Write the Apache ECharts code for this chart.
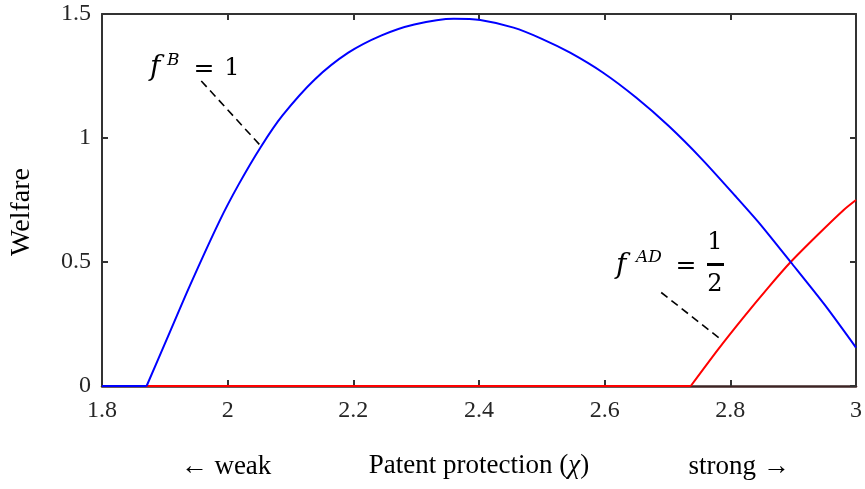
<!DOCTYPE html>
<html>
<head>
<meta charset="utf-8">
<script src="https://cdn.jsdelivr.net/npm/echarts@6/dist/echarts.min.js"></script>
<style>
  html, body { margin: 0; padding: 0; background: #fff; }
  #main { width: 865px; height: 489px; }
</style>
</head>
<body>
<div id="main"></div>
<script>
// welfare curve for f^B = 1 (blue)
const blueX = [1.871, 1.903, 1.939, 1.987, 2.018, 2.053, 2.087, 2.139, 2.192, 2.245, 2.297, 2.360, 2.402,
               2.455, 2.500, 2.545, 2.597, 2.650, 2.702, 2.755, 2.808, 2.847, 2.896, 2.950, 3.000];
const blueY = [0, 0.188, 0.40, 0.665, 0.815, 0.965, 1.09, 1.237, 1.344, 1.414, 1.458, 1.481, 1.476,
               1.445, 1.40, 1.344, 1.264, 1.163, 1.048, 0.914, 0.766, 0.654, 0.50, 0.328, 0.155];

// welfare curve for f^AD = 1/2 (red)
const redX = [2.737, 2.78, 2.82, 2.86, 2.896, 2.94, 2.98, 3.0];
const redY = [0, 0.146, 0.274, 0.396, 0.50, 0.612, 0.709, 0.75];

// both curves sit on zero left of where they start
const blueZeroX = [1.8, 1.871];
const redZeroX = [1.8, 2.737];

// pointer lines from the labels to the curves
const pointerB = [[1.958, 1.23], [2.0526, 0.968]];
const pointerAD = [[2.690, 0.377], [2.786, 0.186]];

const xTicks = { min: 1.8, max: 3, step: 0.2 };
const yTicks = { min: 0, max: 1.5, step: 0.5 };

function pairs(xs, ys) {
    var out = [];
    for (var i = 0; i < xs.length; i++) {
        out.push([xs[i], ys ? ys[i] : 0]);
    }
    return out;
}

var serif = '"Liberation Serif", "Times New Roman", serif';
var math = '"DejaVu Serif", serif';
var axisColor = '#333';

var chart = echarts.init(document.getElementById('main'));

function xAxisCfg(pos) {
    return {
        type: 'value',
        position: pos,
        min: xTicks.min,
        max: xTicks.max,
        interval: xTicks.step,
        z: 3,
        axisLine: { show: true, onZero: false, lineStyle: { color: pos == 'bottom' ? '#3d2424' : axisColor, width: pos == 'bottom' ? 2.5 : 2 } },
        axisTick: { show: true, inside: true, length: 6, lineStyle: { color: axisColor, width: 2 } },
        axisLabel: {
            show: pos == 'bottom',
            margin: 13,
            fontFamily: serif,
            fontSize: 24,
            color: '#262626',
            formatter: function (v) { return String(+v.toFixed(1)); }
        },
        splitLine: { show: false }
    };
}

function yAxisCfg(pos) {
    return {
        type: 'value',
        position: pos,
        min: yTicks.min,
        max: yTicks.max,
        interval: yTicks.step,
        z: 3,
        axisLine: { show: true, onZero: false, lineStyle: { color: axisColor, width: 2 } },
        axisTick: { show: true, inside: true, length: 6, lineStyle: { color: axisColor, width: 2 } },
        axisLabel: {
            show: pos == 'left',
            margin: 11,
            fontFamily: serif,
            fontSize: 24,
            color: '#262626',
            formatter: function (v) { return String(+v.toFixed(1)); }
        },
        splitLine: { show: false }
    };
}

var xBottom = xAxisCfg('bottom');
xBottom.name = '{a|Patent protection (}{c|\u03c7}{a|)}';
xBottom.nameLocation = 'middle';
xBottom.nameGap = 66;
xBottom.nameTextStyle = {
    rich: {
        a: { fontFamily: serif, fontSize: 27, color: '#000' },
        c: { fontFamily: serif, fontStyle: 'italic', fontSize: 27, color: '#000' }
    }
};

function dashed(seg) {
    return {
        silent: true,
        symbol: ['none', 'none'],
        label: { show: false },
        lineStyle: { color: '#000', type: [8, 5], width: 1.6 },
        data: [[{ coord: seg[0] }, { coord: seg[1] }]]
    };
}

function curve(data, color, extra) {
    var s = {
        type: 'line',
        data: data,
        showSymbol: false,
        smooth: 0.25,
        lineStyle: { color: color, width: 2 }
    };
    if (extra) s.markLine = extra;
    return s;
}

var option = {
    animation: false,
    grid: { left: 102, right: 6, top: 14, bottom: 103 },
    xAxis: [xBottom, xAxisCfg('top')],
    yAxis: [yAxisCfg('left'), yAxisCfg('right')],
    series: [
        curve(pairs(redZeroX), '#ff0000'),
        curve(pairs(blueZeroX), '#0000ff'),
        curve(pairs(redX, redY), '#ff0000', dashed(pointerAD)),
        curve(pairs(blueX, blueY), '#0000ff', dashed(pointerB))
    ],
    graphic: [
        { type: 'text', rotation: Math.PI / 2, x: 22, y: 212,
          style: { text: 'Welfare', textAlign: 'center', textVerticalAlign: 'middle', font: '28px ' + serif, fill: '#000' } },
        { type: 'text', style: { text: '\u2190 weak', x: 226, y: 467, textAlign: 'center', textVerticalAlign: 'middle', font: '27px ' + serif, fill: '#000' } },
        { type: 'text', style: { text: 'strong \u2192', x: 739, y: 467, textAlign: 'center', textVerticalAlign: 'middle', font: '27px ' + serif, fill: '#000' } },

        // f^B = 1
        { type: 'text', style: { text: 'f', x: 150, y: 68, textAlign: 'left', textVerticalAlign: 'middle', font: 'italic 28px ' + math, fill: '#000' } },
        { type: 'text', style: { text: 'B', x: 167, y: 61, textAlign: 'left', textVerticalAlign: 'middle', font: 'italic 17px ' + math, fill: '#000' } },
        { type: 'text', style: { text: '=', x: 204, y: 69, textAlign: 'center', textVerticalAlign: 'middle', font: '25px ' + math, fill: '#000' } },
        { type: 'text', style: { text: '1', x: 232, y: 69, textAlign: 'center', textVerticalAlign: 'middle', font: '24px ' + math, fill: '#000' } },

        // f^AD = 1/2
        { type: 'text', style: { text: 'f', x: 616, y: 266, textAlign: 'left', textVerticalAlign: 'middle', font: 'italic 28px ' + math, fill: '#000' } },
        { type: 'text', style: { text: 'AD', x: 636, y: 258, textAlign: 'left', textVerticalAlign: 'middle', font: 'italic 17px ' + math, fill: '#000' } },
        { type: 'text', style: { text: '=', x: 686, y: 266, textAlign: 'center', textVerticalAlign: 'middle', font: '25px ' + math, fill: '#000' } },
        { type: 'text', style: { text: '1', x: 715, y: 243, textAlign: 'center', textVerticalAlign: 'middle', font: '24px ' + math, fill: '#000' } },
        { type: 'rect', shape: { x: 707, y: 263, width: 17, height: 3 }, style: { fill: '#000' } },
        { type: 'text', style: { text: '2', x: 715, y: 285, textAlign: 'center', textVerticalAlign: 'middle', font: '24px ' + math, fill: '#000' } }
    ]
};

chart.setOption(option);
</script>
</body>
</html>
